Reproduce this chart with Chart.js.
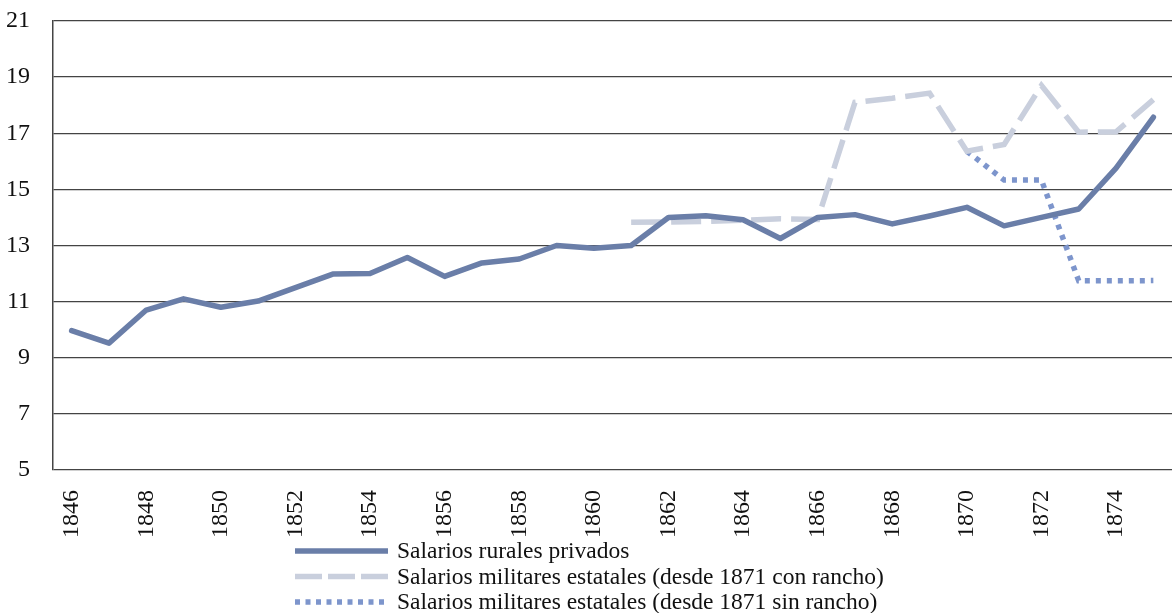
<!DOCTYPE html>
<html>
<head>
<meta charset="utf-8">
<script src="https://cdn.jsdelivr.net/npm/chart.js@4.4.1/dist/chart.umd.min.js"></script>
<style>
  html, body { margin: 0; padding: 0; background: #fff; }
  #wrap { width: 1172px; height: 613px; }
</style>
</head>
<body>
<div id="wrap"><canvas id="chartSalarios" width="1172" height="613"></canvas></div>
<script>
const years = [];
for (let y = 1846; y <= 1875; y++) years.push(String(y));

// Salarios rurales privados
const rurales = [9.97, 9.52, 10.7, 11.1, 10.8, 11.02, 11.5, 11.98, 12.0, 12.57, 11.9, 12.38, 12.52, 13.0, 12.9, 13.0,
                 14.0, 14.06, 13.92, 13.25, 14.0, 14.1, 13.77, 14.05, 14.36, 13.7, 14.0, 14.3, 15.76, 17.57];

// Salarios militares estatales (desde 1871 con rancho)
const militaresCon = [null, null, null, null, null, null, null, null, null, null, null, null, null, null, null, 13.83,
                      13.84, 13.86, 13.9, 13.95, 13.93, 18.1, 18.25, 18.43, 16.36, 16.6, 18.7, 17.04, 17.05, 18.2];

// Salarios militares estatales (desde 1871 sin rancho)
const militaresSin = [null, null, null, null, null, null, null, null, null, null, null, null, null, null, null, null,
                      null, null, null, null, null, null, null, null, 16.36, 15.33, 15.33, 11.74, 11.74, 11.75];

const yTicks = [5, 7, 9, 11, 13, 15, 17, 19, 21];

const serif = '"Liberation Serif", "DejaVu Serif", serif';

// leyenda apilada y alineada a la izquierda, como en el original
const stackedLegend = {
    id: 'stackedLegend',
    afterDraw(chart) {
        const ctx = chart.ctx;
        chart.data.datasets.forEach((ds, i) => {
            const y = 551 + i * 25.5;
            ctx.save();
            ctx.strokeStyle = ds.borderColor;
            ctx.lineWidth = ds.borderWidth;
            ctx.lineCap = 'butt';
            ctx.setLineDash(ds.legendDash || []);
            ctx.beginPath();
            ctx.moveTo(295, y);
            ctx.lineTo(388, y);
            ctx.stroke();
            ctx.setLineDash([]);
            ctx.fillStyle = '#111';
            ctx.font = '23.5px ' + serif;
            ctx.textBaseline = 'middle';
            ctx.fillText(ds.label, 397, y + 1);
            ctx.restore();
        });
    }
};

const ctx = document.getElementById('chartSalarios').getContext('2d');
const chart = new Chart(ctx, {
    type: 'line',
    data: {
        labels: years,
        datasets: [
            {
                label: 'Salarios rurales privados',
                data: rurales,
                borderColor: '#6a7ea8',
                borderWidth: 5.5,
                pointRadius: 0,
                tension: 0,
                borderJoinStyle: 'round',
                borderCapStyle: 'round'
            },
            {
                label: 'Salarios militares estatales (desde 1871 con rancho)',
                data: militaresCon,
                borderColor: '#c9cfdd',
                borderWidth: 5.5,
                borderDash: [30, 10],
                legendDash: [27, 6],
                pointRadius: 0,
                tension: 0
            },
            {
                label: 'Salarios militares estatales (desde 1871 sin rancho)',
                data: militaresSin,
                borderColor: '#7d95cc',
                borderWidth: 5.5,
                borderDash: [5, 6],
                legendDash: [5, 5.5],
                pointRadius: 0,
                tension: 0
            }
        ]
    },
    options: {
        responsive: false,
        animation: false,
        layout: {
            padding: { top: 21, right: 0, left: 0, bottom: 70 }
        },
        plugins: {
            legend: { display: false },
            tooltip: { enabled: false }
        },
        scales: {
            x: {
                offset: true,
                grid: { display: false },
                border: { display: false },
                ticks: {
                    autoSkip: false,
                    maxRotation: 90,
                    minRotation: 90,
                    padding: 12,
                    color: '#111',
                    font: { family: serif, size: 24 },
                    callback: function (val, i) {
                        return i % 2 === 0 ? years[i] : '';
                    }
                },
                afterFit: function (scale) {
                    scale.height = 73;
                    scale.paddingLeft = 0;
                    scale.paddingRight = 0;
                }
            },
            y: {
                min: 5,
                max: 21,
                afterBuildTicks: function (scale) {
                    scale.ticks = yTicks.map(v => ({ value: v }));
                },
                grid: {
                    color: '#444',
                    lineWidth: 1.3,
                    drawTicks: false
                },
                border: { display: true, color: '#444', width: 1.5 },
                ticks: {
                    padding: 23,
                    color: '#111',
                    font: { family: serif, size: 24 }
                },
                afterFit: function (scale) {
                    scale.width = 53;
                    scale.paddingTop = 0;
                    scale.paddingBottom = 0;
                }
            }
        }
    },
    plugins: [stackedLegend]
});
</script>
</body>
</html>
